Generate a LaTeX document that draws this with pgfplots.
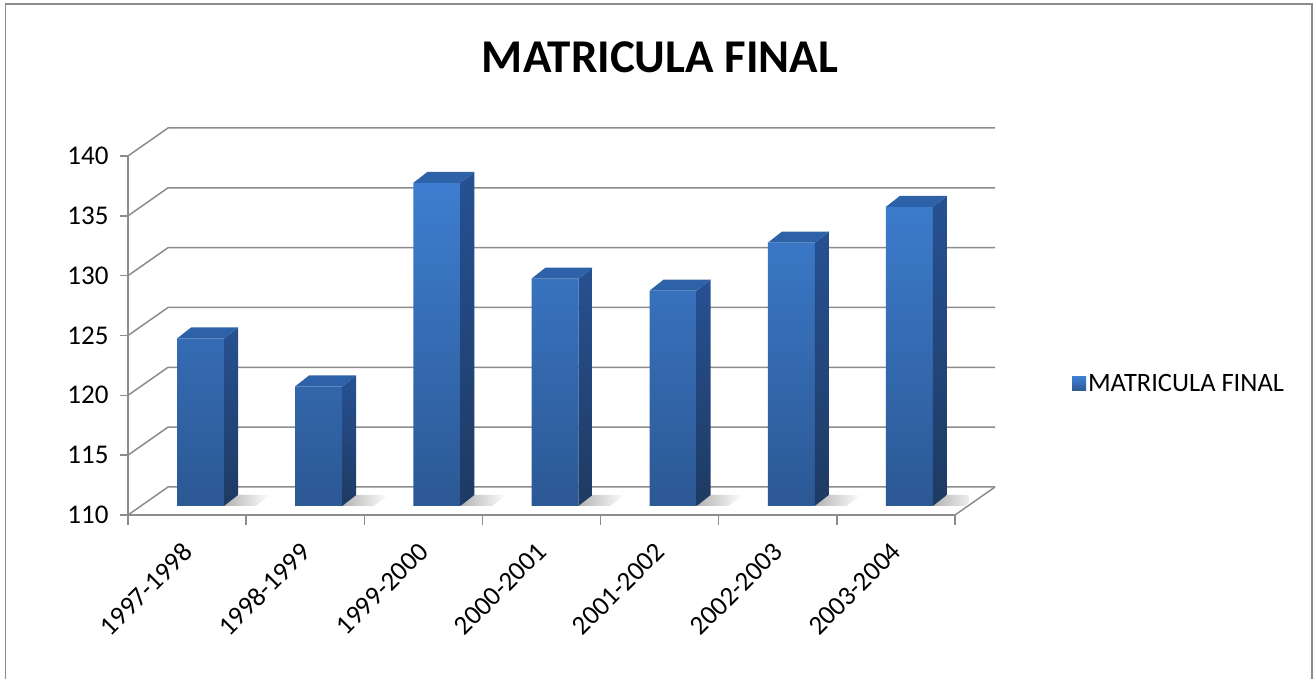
\documentclass[border=0pt]{standalone}
\usepackage{fontspec}
\setmainfont{Carlito}
\usepackage{pgfplots}
\usepackage{pgfplotstable}
\pgfplotsset{compat=1.18}
\definecolor{gridgray}{HTML}{8C8C8C}
\definecolor{ftop}{HTML}{3D7ED0}
\definecolor{fbot}{HTML}{2C5894}
\definecolor{stop}{HTML}{275193}
\definecolor{sbot}{HTML}{1E3A62}
\definecolor{ttop}{HTML}{2E62A8}
\pgfplotstableread{
x v
0 124
1 120
2 137
3 129
4 128
5 132
6 135
}\data
\begin{document}
\begin{tikzpicture}[x=1pt,y=1pt]
\useasboundingbox (0,0) rectangle (1315,679);
\draw[gridgray, line width=1.5pt] (5.5,-5) rectangle (1312,675);
\node[anchor=base, font=\fontsize{47}{56}\selectfont\bfseries] at (660,606) {MATRICULA FINAL};
\begin{axis}[
  at={(128pt,164pt)}, anchor=south west,
  scale only axis, width=827pt, height=359pt,
  xmin=-0.5, xmax=6.5, ymin=110, ymax=140,
  clip=false,
  axis x line*=bottom, axis y line*=left,
  axis line style={gridgray, line width=1.5pt, -},
  tick style={gridgray, line width=1.5pt},
  tick align=outside,
  major tick length=8pt, minor tick length=10pt,
  xtick={0,...,6},
  xticklabels={1997-1998,1998-1999,1999-2000,2000-2001,2001-2002,2002-2003,2003-2004},
  minor xtick={-0.5,0.5,...,6.5},
  major x tick style={draw=none},
  ytick={110,115,...,140},
  /pgf/number format/assume math mode=true,
  ticklabel style={font=\fontsize{27}{32}\selectfont, text=black},
  yticklabel style={xshift=-8pt},
  xticklabel style={rotate=45, anchor=north east, xshift=-13.4pt, yshift=-5pt},
]
\pgfplotsinvokeforeach{110,115,...,140}{
  \draw[gridgray, line width=1.5pt] (axis cs:-0.5,#1) -- ([shift={(40pt,28pt)}]axis cs:-0.5,#1) -- ([shift={(40pt,28pt)}]axis cs:6.5,#1);
}
\draw[gridgray, line width=1.5pt] (axis cs:6.5,110) -- ([shift={(40pt,28pt)}]axis cs:6.5,110);
\end{axis}
\begin{axis}[
  at={(141.5pt,173pt)}, anchor=south west,
  scale only axis, width=827pt, height=359pt,
  xmin=-0.5, xmax=6.5, ymin=110, ymax=140,
  hide axis,
  legend style={at={(1.125,0.34)}, anchor=west, draw=none, fill=none, inner sep=0pt,
    font=\fontsize{26.5}{30}\selectfont},
]
\pgfplotsforeachungrouped \i in {0,...,6}{
  \edef\temp{\noexpand\shade[left color=gray!60, right color=white] ([xshift=23.5pt]axis cs:\i,110) -- ([shift={(37.5pt,11pt)}]axis cs:\i,110) -- ([shift={(70pt,11pt)}]axis cs:\i,110) -- ([shift={(55pt,0pt)}]axis cs:\i,110) -- cycle;}
  \temp
}
\addplot[ybar, bar width=47pt, bar shift=0pt, draw=none, top color=ftop, bottom color=fbot,
  legend image code/.code={\shade[top color=ftop,bottom color=fbot] (-5pt,-7pt) rectangle (9pt,7pt);}]
  table[x=x,y=v]{\data};
\addlegendentry{MATRICULA FINAL}
\pgfplotsforeachungrouped \i in {0,...,6}{
  \pgfplotstablegetelem{\i}{v}\of\data
  \edef\temp{\noexpand\shade[top color=stop, bottom color=sbot] ([xshift=23.5pt]axis cs:\i,110) -- ([shift={(37.5pt,11pt)}]axis cs:\i,110) -- ([shift={(37.5pt,11pt)}]axis cs:\i,\pgfplotsretval) -- ([xshift=23.5pt]axis cs:\i,\pgfplotsretval) -- cycle;
  \noexpand\fill[ttop] ([xshift=-23.5pt]axis cs:\i,\pgfplotsretval) -- ([xshift=23.5pt]axis cs:\i,\pgfplotsretval) -- ([shift={(37.5pt,11pt)}]axis cs:\i,\pgfplotsretval) -- ([shift={(-9.5pt,11pt)}]axis cs:\i,\pgfplotsretval) -- cycle;}
  \temp
}
\end{axis}
\end{tikzpicture}
\end{document}
